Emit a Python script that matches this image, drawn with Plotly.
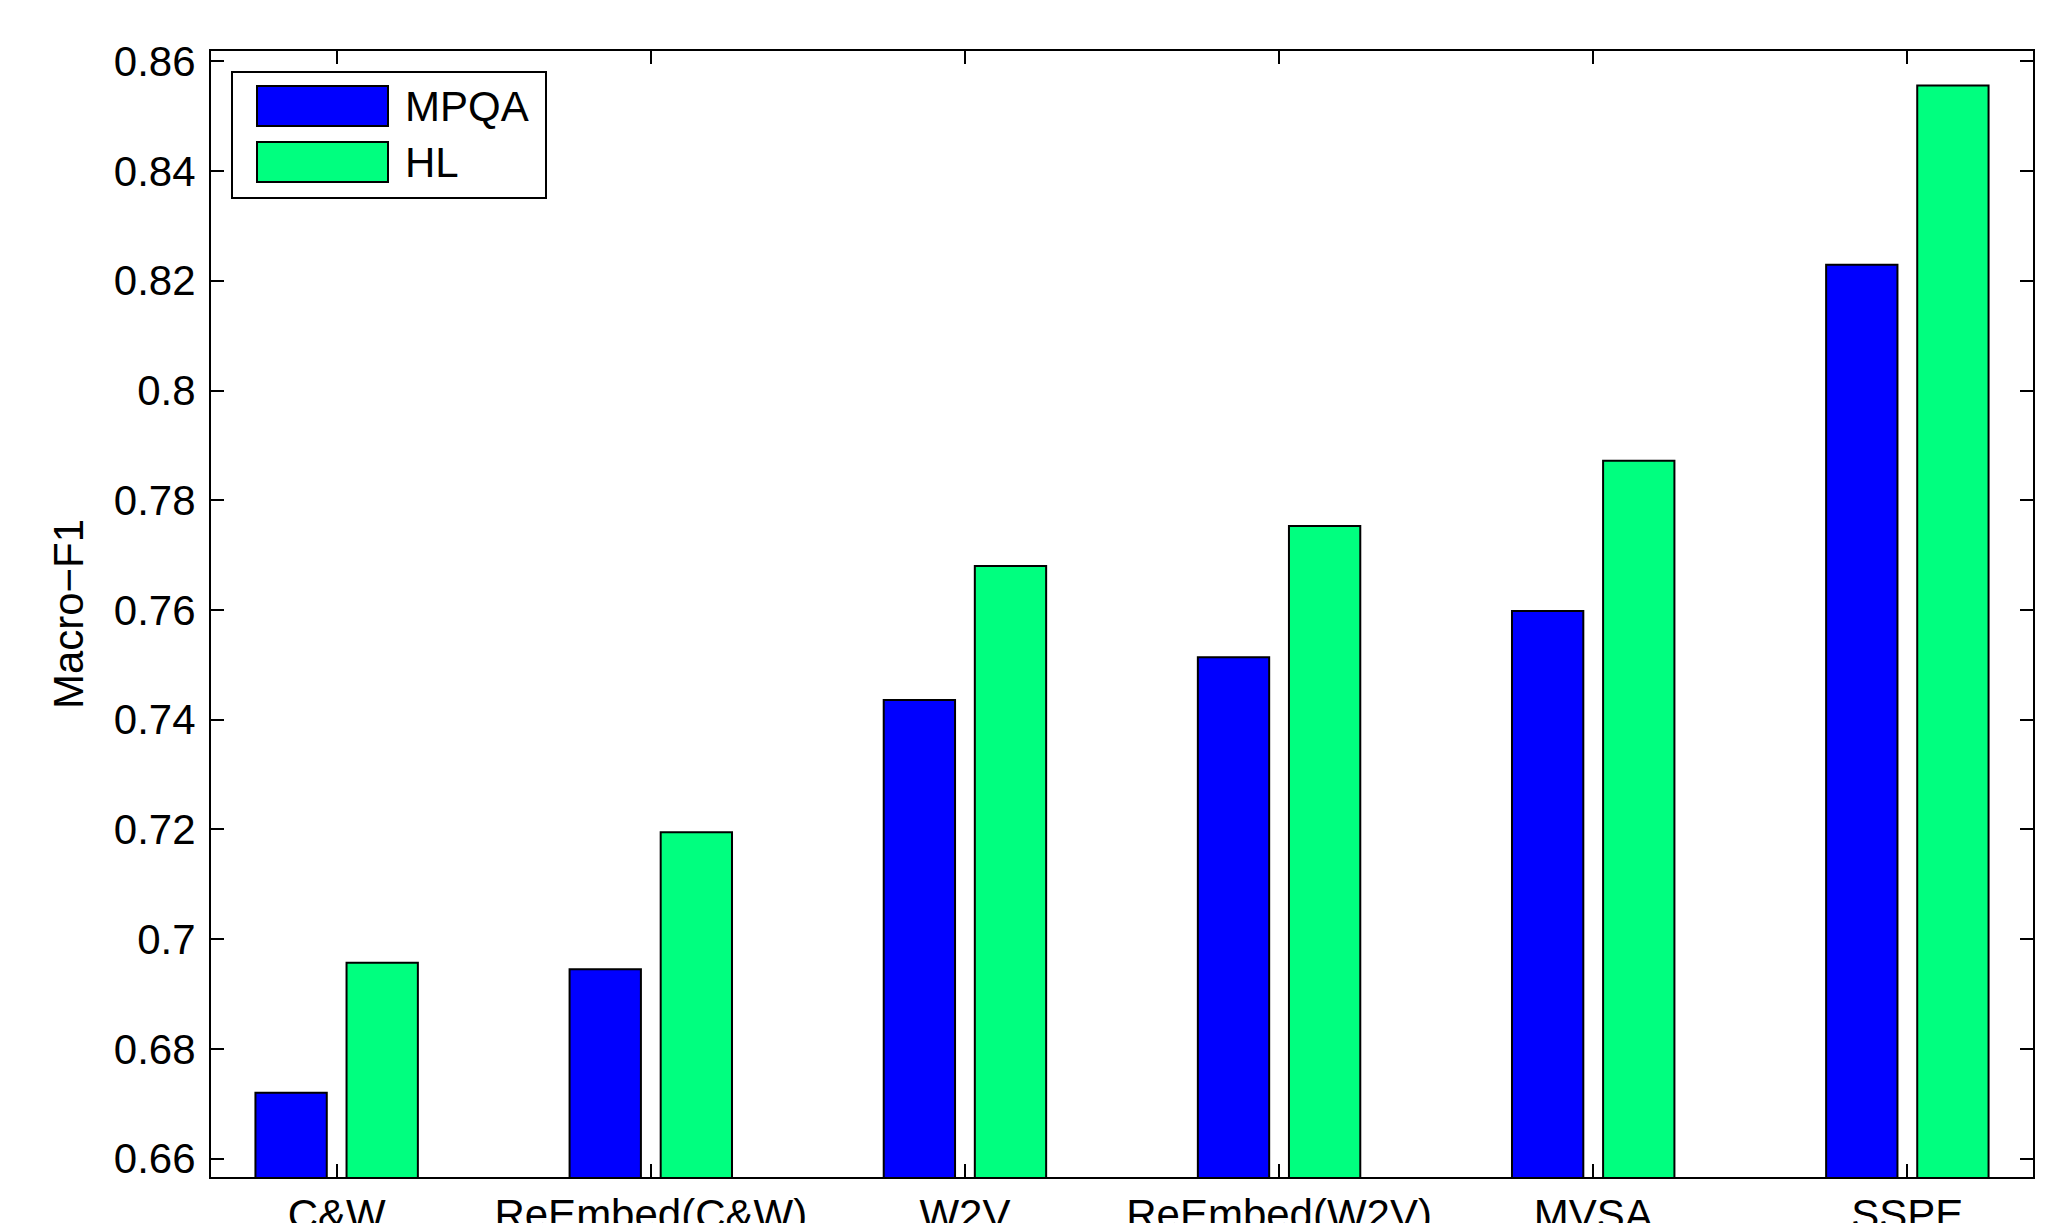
import plotly.graph_objects as go

# ---- data ----
categories = ["C&W", "ReEmbed(C&W)", "W2V", "ReEmbed(W2V)", "MVSA", "SSPE"]
series_names = ["MPQA", "HL"]
mpqa = [0.6720, 0.6945, 0.7436, 0.7514, 0.7598, 0.8229]
hl = [0.6957, 0.7195, 0.7680, 0.7753, 0.7872, 0.8556]
ytick_vals = [0.66, 0.68, 0.70, 0.72, 0.74, 0.76, 0.78, 0.80, 0.82, 0.84, 0.86]
ytick_text = ["0.66", "0.68", "0.7", "0.72", "0.74", "0.76", "0.78", "0.8", "0.82", "0.84", "0.86"]
y_title = "Macro\u2212F1"

colors = ["#0000FF", "#00FF7F"]
FONT = "Liberation Sans, Arial, Helvetica, sans-serif"
OFF = 8  # page body margin in the browser
W, H = 2059 - 2 * OFF, 1231 - 2 * OFF
L, T = 211 - OFF, 51 - OFF
R = W - (2033 - OFF)
B = H - (1177 - OFF)
PW, PH = W - L - R, H - T - B

xpos = list(range(1, len(categories) + 1))

fig = go.Figure()
for name, vals, col in zip(series_names, [mpqa, hl], colors):
    fig.add_trace(go.Bar(
        x=xpos, y=vals, name=name,
        marker=dict(color=col, line=dict(color="black", width=2)),
        showlegend=False,
    ))

fig.update_layout(
    width=W, height=H,
    margin=dict(l=L, r=R, t=T, b=B, pad=0, autoexpand=False),
    paper_bgcolor="white", plot_bgcolor="white",
    barmode="group", bargap=0.42, bargroupgap=0.217,
    font=dict(family=FONT, size=42, color="black"),
)
fig.update_xaxes(
    range=[0.6, 6.4], tickmode="array", tickvals=xpos, ticktext=categories,
    automargin=False, ticklabelstandoff=0,
    showgrid=False, zeroline=False, showline=True, linecolor="black", linewidth=2,
    mirror="ticks", ticks="inside", ticklen=13, tickwidth=2, tickcolor="black",
    tickfont=dict(family=FONT, size=42, color="black"),
)
fig.update_yaxes(
    range=[0.65665, 0.86188], tickmode="array", tickvals=ytick_vals, ticktext=ytick_text,
    automargin=False, ticklabelstandoff=5,
    showgrid=False, zeroline=False, showline=True, linecolor="black", linewidth=2,
    mirror="ticks", ticks="inside", ticklen=13, tickwidth=2, tickcolor="black",
    tickfont=dict(family=FONT, size=42, color="black"),
    title=dict(text=y_title, font=dict(family=FONT, size=42, color="black"), standoff=17),
)

# ---- legend drawn in paper coordinates (MATLAB style) ----
def px(xp):
    return (xp - OFF - L) / PW

def py(yp):
    return 1 - (yp - OFF - T) / PH

shapes = [dict(type="rect", xref="paper", yref="paper",
               x0=px(232), x1=px(546), y0=py(72), y1=py(198),
               line=dict(color="black", width=2), fillcolor="white", layer="above")]
annos = []
sw_rows = [(86, 126), (142, 182)]
for (y0, y1), name, col in zip(sw_rows, series_names, colors):
    shapes.append(dict(type="rect", xref="paper", yref="paper",
                       x0=px(257), x1=px(388), y0=py(y0), y1=py(y1),
                       line=dict(color="black", width=2), fillcolor=col, layer="above"))
    annos.append(dict(xref="paper", yref="paper", x=px(403), y=py((y0 + y1) / 2),
                      text=name, showarrow=False, xanchor="left", yanchor="middle",
                      font=dict(family=FONT, size=42, color="black")))
fig.update_layout(shapes=shapes, annotations=annos)

fig.write_html("out.html")
